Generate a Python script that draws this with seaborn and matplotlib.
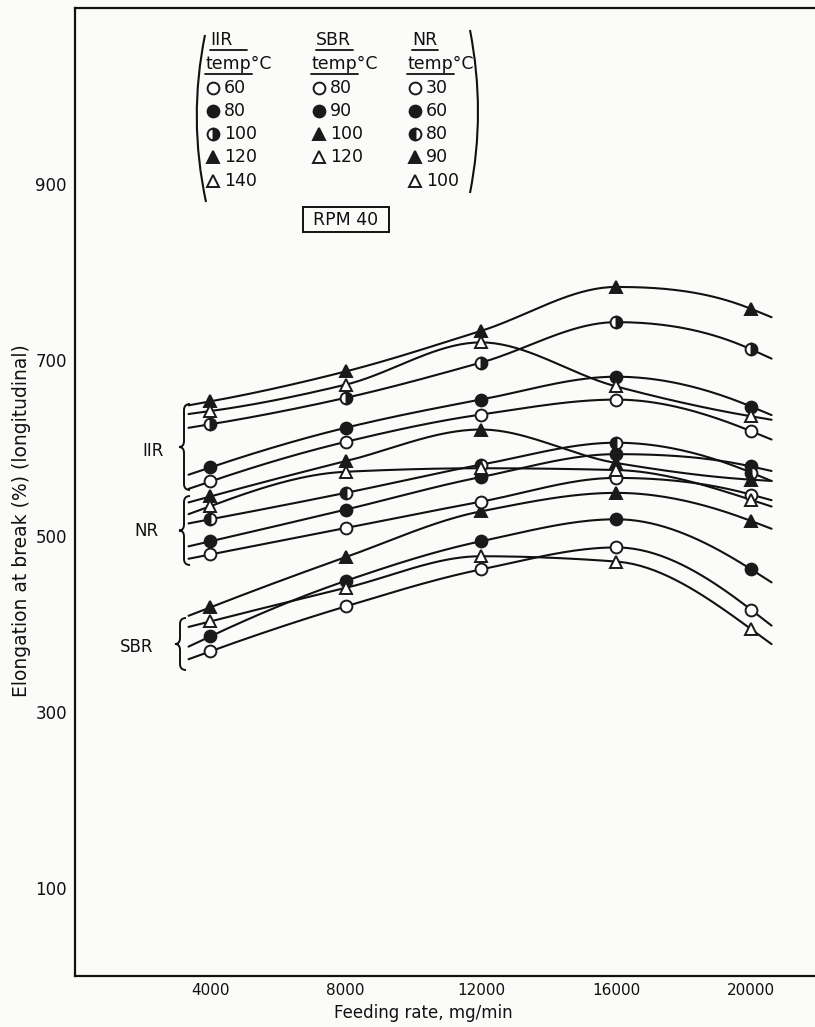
import numpy as np
import pandas as pd
import seaborn as sns
import matplotlib.pyplot as plt
from matplotlib.lines import Line2D
from matplotlib.patches import PathPatch, Rectangle
from matplotlib.path import Path
from matplotlib.transforms import Affine2D

# Feeding rate (mg/min) at which elongation was measured
feed_rate = [4000, 8000, 12000, 16000, 20000]

# Elongation at break (%), RPM 40
iir_60 = [562, 607, 638, 655, 619]
iir_80 = [578, 623, 655, 681, 647]
iir_100 = [627, 657, 697, 743, 712]
iir_120 = [653, 687, 733, 783, 758]
iir_140 = [642, 672, 720, 670, 636]

sbr_80 = [369, 420, 462, 487, 416]
sbr_90 = [386, 449, 494, 519, 462]
sbr_100 = [419, 476, 528, 549, 517]
sbr_120 = [403, 441, 477, 471, 394]

nr_30 = [479, 509, 539, 566, 547]
nr_60 = [494, 530, 567, 593, 579]
nr_80 = [519, 549, 581, 606, 572]
nr_90 = [545, 585, 621, 583, 564]
nr_100 = [534, 573, 577, 575, 541]

iir_temps = ["60", "80", "100", "120", "140"]
sbr_temps = ["80", "90", "100", "120"]
nr_temps = ["30", "60", "80", "90", "100"]

# marker style per temperature slot
STYLES = {
    "open_c": dict(marker="o", mfc="white", mec="k"),
    "fill_c": dict(marker="o", mfc="k", mec="k"),
    "half_r": dict(marker="o", fillstyle="right", mfc="k", mfcalt="white", mec="k"),
    "half_l": dict(marker="o", fillstyle="left", mfc="k", mfcalt="white", mec="k"),
    "fill_t": dict(marker="^", mfc="k", mec="k"),
    "open_t": dict(marker="^", mfc="white", mec="k"),
}

series = [
    ("IIR 60", iir_60, "open_c"), ("IIR 80", iir_80, "fill_c"),
    ("IIR 100", iir_100, "half_r"), ("IIR 120", iir_120, "fill_t"),
    ("IIR 140", iir_140, "open_t"),
    ("SBR 80", sbr_80, "open_c"), ("SBR 90", sbr_90, "fill_c"),
    ("SBR 100", sbr_100, "fill_t"), ("SBR 120", sbr_120, "open_t"),
    ("NR 30", nr_30, "open_c"), ("NR 60", nr_60, "fill_c"),
    ("NR 80", nr_80, "half_l"), ("NR 90", nr_90, "fill_t"),
    ("NR 100", nr_100, "open_t"),
]


def smooth_curve(x, y, lo=3350, hi=20600, n=40):
    # shape preserving cubic (pchip style) with short straight run-outs,
    # just to draw the French-curve look of the original
    x = np.asarray(x, float)
    y = np.asarray(y, float)
    h = np.diff(x)
    dl = np.diff(y) / h
    d = np.zeros_like(y)
    for k in range(1, len(y) - 1):
        if dl[k - 1] * dl[k] > 0:
            d[k] = 2 / (1 / dl[k - 1] + 1 / dl[k])
    d[0] = (3 * dl[0] - dl[1]) / 2
    if np.sign(d[0]) != np.sign(dl[0]):
        d[0] = 0
    d[-1] = (3 * dl[-1] - dl[-2]) / 2
    if np.sign(d[-1]) != np.sign(dl[-1]):
        d[-1] = 0
    xs, ys = [lo], [y[0] + d[0] * (lo - x[0])]
    for k in range(len(x) - 1):
        t = np.linspace(0, 1, n)
        h00 = 2 * t**3 - 3 * t**2 + 1
        h10 = t**3 - 2 * t**2 + t
        h01 = -2 * t**3 + 3 * t**2
        h11 = t**3 - t**2
        seg = h00 * y[k] + h10 * h[k] * d[k] + h01 * y[k + 1] + h11 * h[k] * d[k + 1]
        xs.extend(x[k] + t * h[k])
        ys.extend(seg)
    xs.append(hi)
    ys.append(y[-1] + d[-1] * (hi - x[-1]))
    return xs, ys


sns.set_theme(style="white")
plt.rcParams['font.family'] = ['DejaVu Sans']

W, H = 815, 1027
BG = "#fbfbfa"
INK = "#111111"
fig = plt.figure(figsize=(W / 100, H / 100), dpi=100, facecolor=BG)
ax = fig.add_axes([75.3 / W, 1 - 976 / H, (W - 75.3) / W, (976 - 8) / H])
ax.set_facecolor(BG)

rows = []
for name, vals, _ in series:
    cx, cy = smooth_curve(feed_rate, vals)
    rows += [(name, a, b) for a, b in zip(cx, cy)]
curves = pd.DataFrame(rows, columns=["series", "feed", "elong"])
sns.lineplot(data=curves, x="feed", y="elong", units="series", estimator=None,
             sort=False, color=INK, lw=1.5, ax=ax, legend=False)

for name, vals, st in series:
    ax.plot(feed_rate, vals, ls="none", ms=8.5, mew=1.4, zorder=3, **STYLES[st])

ax.set_xlim(0, 21885)
ax.set_ylim(0, 1100)
ax.set_xticks([4000, 8000, 12000, 16000, 20000])
ax.set_yticks([100, 300, 500, 700, 900])
ax.tick_params(axis="x", direction="in", length=7, width=1.3, labelsize=11, pad=5,
               colors=INK)
ax.tick_params(axis="y", direction="inout", length=10, width=1.3, labelsize=12,
               pad=1, colors=INK)
ax.spines["right"].set_visible(False)
for s in ax.spines.values():
    s.set_color(INK)
    s.set_linewidth(1.6)
ax.set_xlabel("Feeding rate, mg/min", fontsize=12, color=INK)
ax.set_ylabel("Elongation at break (%) (longitudinal)", fontsize=13.5, color=INK)
ax.xaxis.set_label_coords((420 - 75.3) / 732.7, -(1004 - 976) / 968)
ax.yaxis.set_label_coords((31 - 75.3) / 732.7, (976 - 521) / 968)

# pixel transform (origin top-left) for the hand-drawn annotations
T = Affine2D().scale(1 / W, -1 / H).translate(0, 1) + fig.transFigure


def txt(x, y, s, size=12, **kw):
    fig.text(x, y, s, transform=T, fontsize=size, color=INK, va="center", **kw)


def mark(x, y, st):
    fig.add_artist(Line2D([x], [y], transform=T, ls="none", ms=8.5, mew=1.4,
                          **STYLES[st]))


def underline(x0, x1, y):
    fig.add_artist(Line2D([x0, x1], [y, y], transform=T, color=INK, lw=1.3))


def curve(pts):
    codes = [Path.MOVETO, Path.CURVE3, Path.CURVE3]
    fig.add_artist(PathPatch(Path(pts, codes), transform=T, fill=False, lw=1.5,
                             ec=INK))


def brace(x, y0, y1):
    ym = (y0 + y1) / 2
    verts = [(x + 6, y0), (x, y0), (x, y0 + 6), (x, ym - 6), (x, ym), (x - 5, ym),
             (x, ym), (x, ym + 6), (x, y1 - 6), (x, y1), (x + 6, y1)]
    codes = [Path.MOVETO, Path.CURVE3, Path.CURVE3, Path.LINETO, Path.CURVE3,
             Path.CURVE3, Path.CURVE3, Path.CURVE3, Path.LINETO, Path.CURVE3,
             Path.CURVE3]
    fig.add_artist(PathPatch(Path(verts, codes), transform=T, fill=False,
                             lw=1.4, ec=INK))


# legend block
cols = [("IIR", 210, iir_temps, ["open_c", "fill_c", "half_r", "fill_t", "open_t"]),
        ("SBR", 316, sbr_temps, ["open_c", "fill_c", "fill_t", "open_t"]),
        ("NR", 412, nr_temps, ["open_c", "fill_c", "half_l", "fill_t", "open_t"])]
row_y = [88, 111, 134, 157, 181]
for title, x0, temps, sts in cols:
    txt(x0, 40, title, size=12.5)
    underline(x0, x0 + 11 * len(title) + 4, 50)
    txt(x0 - 5, 64, "temp°C", size=12.5)
    underline(x0 - 5, x0 + 42, 74)
    for yy, t, st in zip(row_y, temps, sts):
        mark(x0 + 3, yy, st)
        txt(x0 + 14, yy, t, size=12.5)

curve([(205, 35), (188, 118), (206, 202)])
curve([(470, 30), (486, 112), (470, 193)])

fig.add_artist(Rectangle((303, 207), 86, 25, transform=T, fill=False, lw=1.4,
                         ec=INK))
txt(346, 220, "RPM 40", size=12.5, ha="center")

# rubber group labels with braces
brace(184, 404, 490)
txt(142, 451, "IIR", size=12)
brace(184, 496, 565)
txt(134, 531, "NR", size=12)
brace(180, 618, 670)
txt(120, 647, "SBR", size=12)

fig.savefig("out.png", dpi=100, facecolor=fig.get_facecolor())
